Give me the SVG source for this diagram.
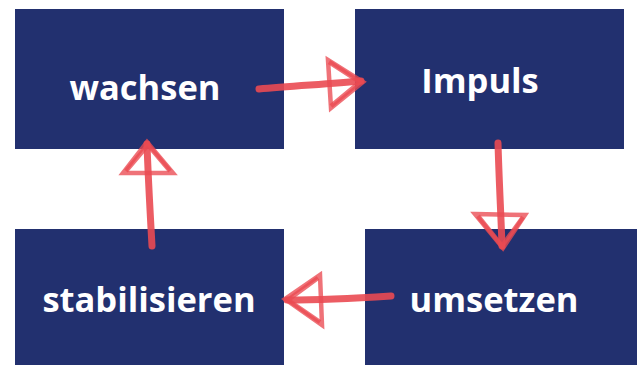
<svg xmlns="http://www.w3.org/2000/svg" width="637" height="365" viewBox="0 0 637 365">
<style>
.box{fill:#22306f}
.lbl{font-family:"Open Sans","Noto Sans",sans-serif;font-weight:bold;font-size:34.5px;fill:#ffffff;text-anchor:middle}
.shaft{fill:none;stroke:#ea4a52;stroke-opacity:0.9;stroke-width:7;stroke-linecap:round;stroke-linejoin:round}
.head{fill:none;stroke:#ea4a52;stroke-opacity:0.78;stroke-width:4.5;stroke-linecap:butt;stroke-linejoin:miter}
</style>
<rect width="637" height="365" fill="#ffffff"/>
<g id="node-wachsen">
<rect class="box" x="15" y="9" width="269" height="140"/>
<text class="lbl" x="145" y="100">wachsen</text>
</g>
<g id="node-impuls">
<rect class="box" x="355" y="9" width="269" height="140"/>
<text class="lbl" x="480" y="93">Impuls</text>
</g>
<g id="node-stabilisieren">
<rect class="box" x="15" y="229" width="269" height="136"/>
<text class="lbl" x="149" y="312">stabilisieren</text>
</g>
<g id="node-umsetzen">
<rect class="box" x="365" y="229" width="272" height="136"/>
<text class="lbl" x="494" y="312">umsetzen</text>
</g>
<g id="connectors">
<path class="shaft" d="M259,89 C290,86 330,84 361,81"/>
<path class="head" d="M328,60 L331,108 L363,82 Z"/>
<path class="head" d="M329,62 L360,82 L331,106"/>
<path class="shaft" d="M498,143 C499,180 501,215 502,246"/>
<path class="head" d="M475,214 L525,215 L503,248 Z"/>
<path class="head" d="M478,216 L502,246 L523,217"/>
<path class="shaft" d="M391,296 C360,298 320,300 287,300"/>
<path class="head" d="M320,275 L322,325 L285,299 Z"/>
<path class="head" d="M318,278 L288,300 L320,322"/>
<path class="shaft" d="M152,246 C150,210 148,175 147,144"/>
<path class="head" d="M123,173 L173,173 L147,142 Z"/>
<path class="head" d="M126,171 L148,145 L170,171"/>
</g>
</svg>
